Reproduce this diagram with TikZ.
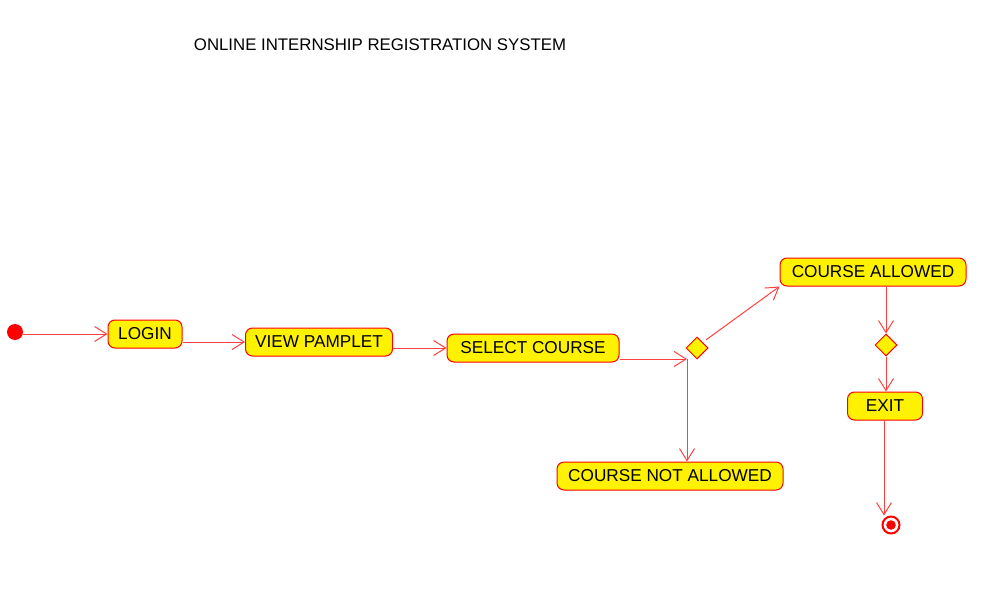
\documentclass[tikz,border=0pt]{standalone}
\usepackage{fontspec}
\setmainfont{Liberation Sans}
\usetikzlibrary{arrows.meta,shapes.geometric}
\definecolor{flowred}{HTML}{FF4040}
\tikzset{
  activity/.style={draw=red, fill=yellow, rounded corners=3.5pt, minimum height=14pt,
    inner sep=0pt, line width=0.5pt, font=\fontsize{8.6}{9}\selectfont},
  decision/.style={diamond, draw=red, fill=yellow, minimum size=11pt, inner sep=0pt, line width=0.5pt},
  flow/.style={draw=flowred, line width=0.5pt, -{Straight Barb[length=6pt,width=7.5pt]}},
}
\begin{document}
\begin{tikzpicture}[x=0.5pt,y=-0.5pt]
  \useasboundingbox (0,0) rectangle (990,615);
  \node[font=\fontsize{8.4}{9}\selectfont] (title) at (380,45) {ONLINE INTERNSHIP REGISTRATION SYSTEM};
  \draw
    (15,332) node[circle, fill=red, minimum size=8pt, inner sep=0pt] (start){}
    (145,334) node[activity, minimum width=37pt] (login){LOGIN}
    (319,342) node[activity, minimum width=73.5pt] (pamplet){VIEW PAMPLET}
    (533,348) node[activity, minimum width=86pt] (select){SELECT COURSE}
    (697,348) node[decision] (check){}
    (873,272) node[activity, minimum width=93pt] (allowed){COURSE ALLOWED}
    (670,476) node[activity, minimum width=113pt] (notallowed){COURSE NOT ALLOWED}
    (886,345) node[decision] (merge){}
    (885,406) node[activity, minimum width=37.5pt] (exit){EXIT}
    (891,525) node[circle, draw=red, fill=white, line width=1pt, minimum size=8.5pt, inner sep=0pt,
      path picture={\fill[red] (path picture bounding box.center) circle (2.4pt);}] (finish){};
  \coordinate (fork) at (687,359);
  \begin{scope}[flow]
    \draw (start.east |- login.west) to (login.west);
    \draw (login.east |- pamplet.west) to (pamplet.west);
    \draw (pamplet.east |- select.west) to (select.west);
    \draw (select.east |- fork) to (fork);
    \draw (fork) to (fork |- notallowed.north);
    \draw[shorten <=2pt] (check.north east) to (allowed.south west);
    \draw (allowed.south -| merge.north) to (merge.north);
    \draw (merge.south) to (merge.south |- exit.north);
    \draw ([xshift=-0.5pt]exit.south) to ([xshift=-0.5pt]exit.south |- finish.north);
  \end{scope}
\end{tikzpicture}
\end{document}
